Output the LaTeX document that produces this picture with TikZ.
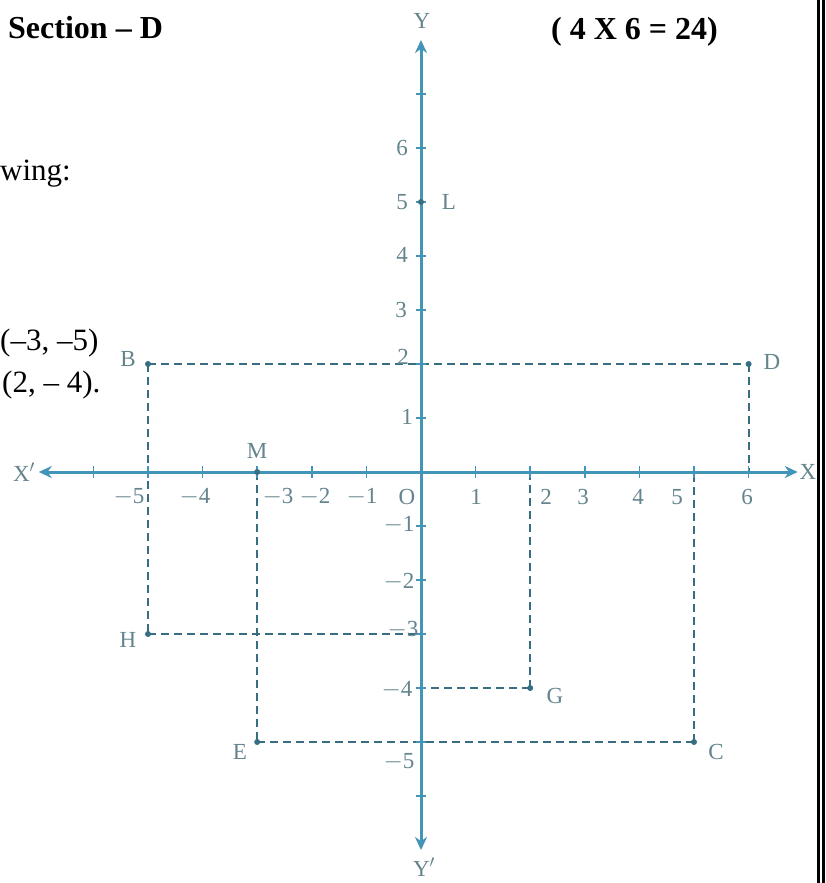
\documentclass[tikz,border=0pt]{standalone}
\usepackage{fontspec}
\setmainfont{Liberation Serif}
\usetikzlibrary{arrows.meta}
\definecolor{axisc}{RGB}{66,148,184}
\definecolor{dashc}{RGB}{55,110,130}
\definecolor{labc}{RGB}{100,132,142}
\begin{document}
\begin{tikzpicture}[x=1pt,y=-1pt,
  hdr/.style={font=\fontsize{32}{36}\selectfont\bfseries, anchor=base west, inner sep=0pt},
  body/.style={font=\fontsize{31}{36}\selectfont, anchor=base west, inner sep=0pt},
  lab/.style={font=\fontsize{23}{23}\selectfont, text=labc, inner sep=0pt},
  axisline/.style={draw=axisc, line width=3pt, -{Stealth[length=13pt,width=12pt]}},
  tickmark/.style={draw=axisc, line width=1.6pt},
  dashline/.style={draw=dashc, line width=1.8pt, dash pattern=on 8pt off 5pt},
  ptdot/.style={circle, fill=dashc, inner sep=0pt, minimum size=6pt},
  rule/.style={fill=black, draw=none}]
\useasboundingbox (0,0) rectangle (825,883);
\fill[white] (0,0) rectangle (825,883);

% left / header texts
\node[hdr] (sec) at (8,39) {Section – D};
\node[hdr] (marks) at (551,40) {( 4 X 6 = 24)};
\node[body] (t1) at (0,180) {wing:};
\node[body] (t2) at (0,350) {(–3, –5)};
\node[body] (t3) at (2,392) {(2, – 4).};

% graph
\begin{scope}[shift={(421pt,-472pt)}, x=54.6pt, y=54pt]
  \coordinate (O) at (0,0);
  \coordinate (xl) at (-7,0);
  \coordinate (xr) at (6.9,0);
  \coordinate (yt) at (0,8);
  \coordinate (yb) at (0,-7);
  \coordinate (B) at (-5,2);
  \coordinate (D) at (6,2);
  \coordinate (L) at (0,5);
  \coordinate (M) at (-3,0);
  \coordinate (H) at (-5,-3);
  \coordinate (G) at (2,-4);
  \coordinate (E) at (-3,-5);
  \coordinate (C) at (5,-5);
  \coordinate (Dx) at (6,0);
  \coordinate (Cx) at (5,0);
  \coordinate (Gx) at (2,0);
  \coordinate (Gy) at (0,-4);
  \coordinate (Hy) at (0,-3);

  % dashed construction lines
  \draw[dashline] (B) -- (D);
  \draw[dashline] (B) -- (H);
  \draw[dashline] (D) -- (Dx);
  \draw[dashline] (H) -- (Hy);
  \draw[dashline] (M) -- (E);
  \draw[dashline] (E) -- (C);
  \draw[dashline] (C) -- (Cx);
  \draw[dashline] (G) -- (Gx);
  \draw[dashline] (G) -- (Gy);

  % axes
  \draw[axisline] (O) -- (xl);
  \draw[axisline] (O) -- (xr);
  \draw[axisline] (O) -- (yt);
  \draw[axisline] (O) -- (yb);
  \foreach \i in {-6,-5,-4,-3,-2,-1,1,2,3,4,5,6}
    \draw[tickmark] (\i,0) ++(0,-0.11) -- ++(0,0.22);
  \foreach \j in {-6,-5,-4,-3,-2,-1,1,2,3,4,5,6,7}
    \draw[tickmark] (0,\j) ++(-0.1,0) -- ++(0.2,0);

  % points
  \foreach \p in {B,D,L,M,H,G,E,C}
    \node[ptdot] (dot\p) at (\p) {};
\end{scope}

% axis names
\node[lab] (lY) at (422,21) {Y};
\node[lab] (lYp) at (424,867) {Y$'$};
\node[lab] (lXp) at (24,472) {X$'$};
\node[lab] (lX) at (808,472) {X};

% point names
\node[lab] (nB) at (128,359) {B};
\node[lab] (nD) at (772,362) {D};
\node[lab] (nL) at (449,202) {L};
\node[lab] (nM) at (257,451) {M};
\node[lab] (nH) at (128,640) {H};
\node[lab] (nG) at (555,696) {G};
\node[lab] (nE) at (240,752) {E};
\node[lab] (nC) at (716,752) {C};

% x tick labels
\node[lab] (xm5) at (129,497) {$-$5};
\node[lab] (xm4) at (195,497) {$-$4};
\node[lab] (xm3) at (278,497) {$-$3};
\node[lab] (xm2) at (315,497) {$-$2};
\node[lab] (xm1) at (362,497) {$-$1};
\node[lab] (xO) at (407,497) {O};
\node[lab] (x1) at (476,497) {1};
\node[lab] (x2) at (546,497) {2};
\node[lab] (x3) at (583,497) {3};
\node[lab] (x4) at (638,497) {4};
\node[lab] (x5) at (677,497) {5};
\node[lab] (x6) at (747,497) {6};

% y tick labels
\node[lab] (y6) at (402,148) {6};
\node[lab] (y5) at (402,202) {5};
\node[lab] (y4) at (402,255) {4};
\node[lab] (y3) at (401,310) {3};
\node[lab] (y2) at (403,357) {2};
\node[lab] (y1) at (407,417) {1};
\node[lab] (ym1) at (399,525) {$-$1};
\node[lab] (ym2) at (399,582) {$-$2};
\node[lab] (ym3) at (403,630) {$-$3};
\node[lab] (ym4) at (397,690) {$-$4};
\node[lab] (ym5) at (399,762) {$-$5};

% right double border
\fill[rule] (817,0) rectangle (820,883);
\fill[rule] (822,0) rectangle (825,883);
\end{tikzpicture}
\end{document}
